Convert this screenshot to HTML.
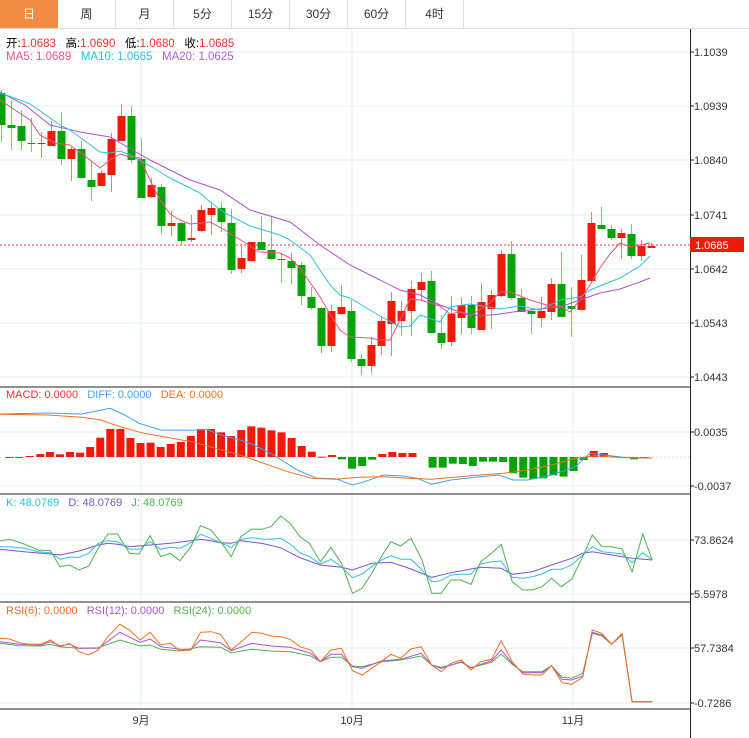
<!DOCTYPE html>
<html><head><meta charset="utf-8">
<style>
body{margin:0;width:749px;height:738px;background:#fff;overflow:hidden;font-family:"Liberation Sans","Noto Sans CJK SC",sans-serif;}
.tabs{position:absolute;left:0;top:0;height:28px;display:flex;border-bottom:1px solid #ddd;width:749px}
.tab{height:28px;line-height:28px;text-align:center;font-size:12px;color:#333;border-right:1px solid #ddd;box-sizing:border-box;width:58px}
.tab.on{background:#f28c40;color:#fff;border-right:none}
svg{position:absolute;left:0;top:0}
.lg{position:absolute;font-size:11.5px;white-space:nowrap}
</style></head><body>
<div class="tabs"><div class="tab on">日</div><div class="tab">周</div><div class="tab">月</div><div class="tab">5分</div><div class="tab">15分</div><div class="tab">30分</div><div class="tab">60分</div><div class="tab">4时</div></div>
<svg id="s" width="749" height="738" xmlns="http://www.w3.org/2000/svg">
<g font-family="Liberation Sans, sans-serif" font-size="11" fill="#333">
<text x="694" y="56">1.1039</text><text x="694" y="110">1.0939</text><text x="694" y="164">1.0840</text><text x="694" y="219">1.0741</text><text x="694" y="273">1.0642</text><text x="694" y="327">1.0543</text><text x="694" y="381">1.0443</text>
<text x="694" y="436">0.0035</text><text x="694" y="490">-0.0037</text>
<text x="694" y="544">73.8624</text><text x="694" y="598">5.5978</text>
<text x="694" y="652">57.7384</text><text x="694" y="707">-0.7286</text>
<text x="141" y="724" text-anchor="middle" font-family="Liberation Sans, Noto Sans CJK SC, sans-serif">9月</text>
<text x="352" y="724" text-anchor="middle" font-family="Liberation Sans, Noto Sans CJK SC, sans-serif">10月</text>
<text x="573" y="724" text-anchor="middle" font-family="Liberation Sans, Noto Sans CJK SC, sans-serif">11月</text>
</g>
<rect x="690" y="237" width="54" height="15" fill="#f01a0a"/>
<text x="695" y="249" font-family="Liberation Sans, sans-serif" font-size="11" fill="#fff">1.0685</text>
</svg>
<div class="lg" style="left:6px;top:35px">开:<span style="color:#f03030">1.0683</span>&nbsp;&nbsp; 高:<span style="color:#f03030">1.0690</span>&nbsp;&nbsp; 低:<span style="color:#f03030">1.0680</span>&nbsp;&nbsp; 收:<span style="color:#f03030">1.0685</span></div>
<div class="lg" style="left:6px;top:51px"><span style="color:#f0508a">MA5: 1.0689</span>&nbsp;&nbsp; <span style="color:#30c0e0">MA10: 1.0665</span>&nbsp;&nbsp; <span style="color:#b060d0">MA20: 1.0625</span></div>
<div class="lg" style="left:6px;top:389px;font-size:11px"><span style="color:#f03030">MACD: 0.0000</span>&nbsp;&nbsp; <span style="color:#40a0f0">DIFF: 0.0000</span>&nbsp;&nbsp; <span style="color:#f07020">DEA: 0.0000</span></div>
<div class="lg" style="left:6px;top:497px;font-size:11px"><span style="color:#30c0e0">K: 48.0769</span>&nbsp;&nbsp; <span style="color:#8050d0">D: 48.0769</span>&nbsp;&nbsp; <span style="color:#50b050">J: 48.0769</span></div>
<div class="lg" style="left:6px;top:605px;font-size:11px"><span style="color:#f07020">RSI(6): 0.0000</span>&nbsp;&nbsp; <span style="color:#b050d0">RSI(12): 0.0000</span>&nbsp;&nbsp; <span style="color:#50b050">RSI(24): 0.0000</span></div>
<script>
var s=document.getElementById('s'),out='';
function ln(x1,y1,x2,y2,c,w,d){out+='<line x1="'+x1+'" y1="'+y1+'" x2="'+x2+'" y2="'+y2+'" stroke="'+c+'" stroke-width="'+(w||1)+'"'+(d?' stroke-dasharray="'+d+'"':'')+'/>';}
function rc(x,y,w,h,c){out+='<rect x="'+x+'" y="'+y+'" width="'+w+'" height="'+Math.max(h,1)+'" fill="'+c+'"/>';}
function pl(p,c,fx,fy,w){out+='<polyline fill="none" stroke="'+c+'" stroke-width="'+(w||1)+'" points="'+p.map(function(a){return (fx?a[0]/2.085:a[0]).toFixed(1)+','+(fy?fy+a[1]/3:a[1]).toFixed(1)}).join(' ')+'"/>';}
[52,106,160,215,269,323,377,432,486,540,594,648,703].forEach(function(y){ln(0,y,690,y,'#e6edf3');});
[141,352,573].forEach(function(x){ln(x,29,x,709,'#e6edf3');});
[387,494,602,709].forEach(function(y){ln(0,y,690,y,'#222');});
ln(690.5,29,690.5,738,'#222');
[52,106,160,215,269,323,377,432,486,540,594,648,703].forEach(function(y){ln(690,y,694,y,'#222');});
ln(0,245,690,245,'#f03030',1,'2,2');
ln(0,457,690,457,'#cfe3f0',1,'2,2');
var C=[['g',93,125,90,142],['g',125,128,100,150],['g',126,141,110,150],['g',143,144,118,152],['r',143,144,132,158],['r',131,146,121,146],['g',131,159,112,165],['r',149,159,147,181],['g',149,178,141,178],['g',180,187,162,201],['r',173,186,170,186],['r',139,175,133,192],['r',116,141,104,141],['g',116,160,106,163],['g',159,198,138,198],['r',185,197,178,198],['g',187,226,184,234],['r',223,226,211,236],['g',223,241,222,245],['r',238,240,215,242],['r',210,231,205,232],['r',208,215,202,235],['g',208,222,202,232],['g',223,270,209,274],['r',258,269,244,273],['r',242,261,243,262],['g',242,250,216,250],['g',250,259,217,260],['g',259,260,253,283],['g',261,268,253,284],['g',265,296,262,305],['g',297,308,287,310],['g',308,346,307,353],['r',311,346,305,352],['r',307,314,285,315],['g',311,359,300,362],['g',359,366,354,375],['r',345,366,337,373],['r',321,346,316,355],['r',301,324,292,356],['r',311,321,301,336],['r',289,311,281,336],['r',282,290,273,300],['g',281,333,271,333],['g',333,343,315,349],['r',314,342,296,346],['r',305,318,298,334],['g',305,328,296,334],['r',302,330,283,330],['r',295,309,290,329],['r',254,296,250,297],['g',254,298,241,300],['g',298,312,289,312],['g',311,314,308,334],['r',311,318,297,327],['r',284,312,278,320],['g',284,317,252,315],['g',306,309,287,337],['r',280,310,255,310],['r',223,281,212,283],['g',225,229,207,229],['g',229,238,225,240],['r',233,238,229,259],['g',234,256,224,259],['r',246,256,240,261],['r',246,248,243,248]];
C.forEach(function(c,k){var x=k*10+1,col=c[0]=='r'?'#f01a0a':'#06a306',wc=c[0]=='r'?'#f57a70':'#6ccf6c';ln(x+0.5,c[3],x+0.5,c[4],wc);rc(x-3.5,c[1],8,c[2]-c[1],col);});
pl([[0,92],[25,105],[50,125],[80,132],[110,137],[150,160],[190,180],[220,190],[250,210],[290,222],[320,245],[350,265],[380,280],[400,290],[420,295],[440,305],[460,312],[480,316],[500,314],[520,311],[540,309],[560,307],[580,300],[600,293],[620,289],[640,282],[650,278]],'#b050d0');
pl([[0,93],[20,100],[30,104],[60,125],[70,130],[100,152],[110,153],[120,151],[130,155],[150,166],[170,178],[200,193],[210,202],[225,213],[250,226],[280,235],[290,240],[310,255],[320,270],[330,285],[340,295],[350,298],[370,310],[380,316],[400,327],[410,326],[420,315],[440,322],[450,307],[470,304],[500,309],[520,306],[540,310],[560,300],[580,297],[590,290],[600,286],[620,278],[640,266],[650,256]],'#30c0e0');
pl([[0,100],[30,120],[40,135],[55,143],[70,145],[90,160],[100,168],[110,160],[120,154],[130,157],[140,158],[150,180],[160,200],[170,214],[180,220],[190,224],[210,222],[225,230],[250,246],[260,252],[280,253],[290,258],[300,268],[320,297],[330,314],[340,330],[350,337],[370,338],[380,340],[390,340],[400,320],[410,299],[420,300],[440,306],[450,314],[460,312],[470,316],[490,303],[500,292],[510,292],[530,300],[550,306],[560,306],[570,312],[580,300],[590,285],[600,268],[610,254],[620,243],[630,247],[650,243]],'#f0507a');
var M=[[20,231],[40,231],[62,228],[84,222],[104,216],[125,223],[146,216],[167,218],[188,201],[209,173],[230,147],[251,147],[272,174],[293,189],[314,188],[335,201],[356,192],[377,186],[398,168],[419,147],[440,147],[461,157],[482,168],[503,150],[524,139],[545,143],[566,151],[587,157],[608,174],[629,198],[650,215],[671,230],[692,225],[713,238],[734,266],[755,258],[776,239],[797,222],[818,216],[839,219],[860,219],[902,263],[923,263],[944,251],[965,252],[986,258],[1007,245],[1028,245],[1049,246],[1070,280],[1091,293],[1112,297],[1133,295],[1154,286],[1175,290],[1196,273],[1217,240],[1238,213],[1259,219],[1280,229],[1301,233],[1322,238],[1343,234]];
M.forEach(function(m){var x=m[0]/2.085,y=380+m[1]/3,z=457;if(y<z)rc(x-4,y,8,z-y,'#f01a0a');else rc(x-4,z,8,y-z,'#06a306');});
pl([[0,102],[100,99],[170,102],[230,85],[260,105],[290,130],[335,150],[400,151],[430,148],[460,165],[500,180],[530,195],[570,225],[620,270],[660,295],[700,296],[735,315],[760,305],[800,285],[840,288],[870,295],[900,313],[940,300],[1000,290],[1040,285],[1070,300],[1100,300],[1150,285],[1200,260],[1230,220],[1260,225],[1300,232],[1360,234]],'#40a0f0',1,380);
pl([[0,103],[100,105],[170,112],[210,120],[250,140],[300,160],[400,185],[500,225],[600,275],[650,295],[700,298],[750,292],[800,290],[850,295],[900,298],[1000,285],[1050,280],[1100,270],[1150,255],[1200,235],[1240,227],[1300,233],[1360,234]],'#f07020',1,380);
pl([[0,178],[50,185],[105,192],[125,195],[165,183],[205,165],[225,160],[245,163],[270,170],[313,165],[355,160],[398,152],[418,148],[440,152],[460,158],[482,160],[502,152],[545,160],[585,173],[625,203],[668,225],[712,232],[735,240],[775,220],[815,217],[857,237],[900,262],[940,248],[982,237],[1002,232],[1045,235],[1068,253],[1110,245],[1150,225],[1192,205],[1215,190],[1235,185],[1275,195],[1318,205],[1360,210]],'#8050d0',1,490);
pl([[0,170],[20,170],[50,175],[80,185],[105,188],[125,208],[145,202],[165,202],[185,190],[205,160],[225,152],[245,155],[270,178],[290,178],[313,155],[335,178],[355,172],[375,175],[398,158],[418,133],[440,145],[460,158],[482,173],[502,148],[525,143],[545,147],[565,148],[585,145],[605,162],[625,188],[645,200],[668,222],[690,208],[712,230],[735,263],[755,252],[775,230],[795,210],[815,197],[835,208],[857,208],[880,240],[900,275],[920,272],[940,255],[960,253],[982,253],[1002,222],[1025,215],[1045,213],[1068,262],[1090,265],[1110,260],[1130,252],[1150,238],[1170,238],[1192,225],[1215,195],[1235,170],[1255,185],[1275,188],[1297,192],[1318,218],[1340,188],[1360,210]],'#30c0e0',1,490);
pl([[0,153],[20,148],[50,162],[80,180],[105,182],[125,230],[145,225],[165,240],[185,228],[205,175],[225,132],[245,132],[270,190],[290,192],[313,137],[335,200],[355,190],[375,212],[398,170],[418,107],[440,120],[460,155],[482,200],[502,140],[525,117],[545,118],[565,110],[585,78],[605,100],[625,140],[645,160],[668,215],[690,172],[712,220],[735,310],[755,295],[775,250],[795,200],[815,155],[835,168],[857,145],[880,210],[900,310],[920,310],[940,270],[960,270],[982,283],[1002,215],[1025,190],[1045,163],[1068,275],[1090,300],[1110,300],[1130,290],[1150,265],[1170,290],[1192,268],[1215,200],[1235,135],[1255,170],[1275,170],[1297,177],[1318,245],[1340,132],[1360,210]],'#50b050',1,490);
pl([[0,130],[40,137],[85,138],[105,133],[125,140],[165,145],[205,143],[250,120],[292,138],[313,135],[335,148],[375,153],[418,140],[460,142],[482,158],[525,148],[565,153],[605,155],[648,168],[668,185],[690,172],[712,172],[735,198],[755,200],[795,185],[835,180],[878,168],[900,195],[920,202],[962,187],[982,203],[1025,187],[1045,162],[1068,193],[1090,215],[1130,215],[1150,197],[1172,232],[1192,235],[1215,220],[1235,100],[1255,108],[1275,133],[1297,105],[1318,305],[1360,305]],'#50b050',1,600);
pl([[0,125],[40,133],[85,135],[105,125],[125,137],[145,132],[165,145],[205,145],[250,97],[292,127],[313,117],[335,140],[375,148],[398,148],[418,120],[460,128],[482,152],[525,130],[565,138],[605,142],[648,160],[668,185],[690,163],[712,163],[735,200],[755,205],[795,183],[835,178],[878,160],[900,195],[920,205],[962,185],[982,203],[1025,182],[1045,150],[1068,190],[1090,218],[1130,218],[1150,197],[1172,238],[1192,240],[1215,228],[1235,97],[1255,105],[1275,133],[1297,103],[1318,305],[1360,305]],'#b050d0',1,600);
pl([[0,115],[20,117],[40,128],[60,133],[85,133],[105,120],[125,140],[145,130],[165,155],[185,165],[205,150],[225,110],[250,73],[270,90],[292,120],[313,97],[335,135],[355,130],[375,152],[398,150],[418,97],[440,95],[460,103],[482,150],[502,127],[525,97],[545,100],[565,108],[585,110],[605,118],[625,140],[648,150],[668,185],[690,150],[712,145],[735,212],[755,225],[775,205],[795,185],[815,163],[835,175],[857,147],[878,140],[900,195],[920,215],[940,190],[962,180],[982,210],[1002,185],[1025,178],[1045,122],[1068,185],[1090,222],[1110,225],[1130,225],[1150,197],[1172,248],[1192,253],[1215,232],[1235,90],[1255,100],[1275,133],[1297,100],[1318,305],[1360,305]],'#f07020',1,600);
s.insertAdjacentHTML('afterbegin',out);
</script>
</body></html>
